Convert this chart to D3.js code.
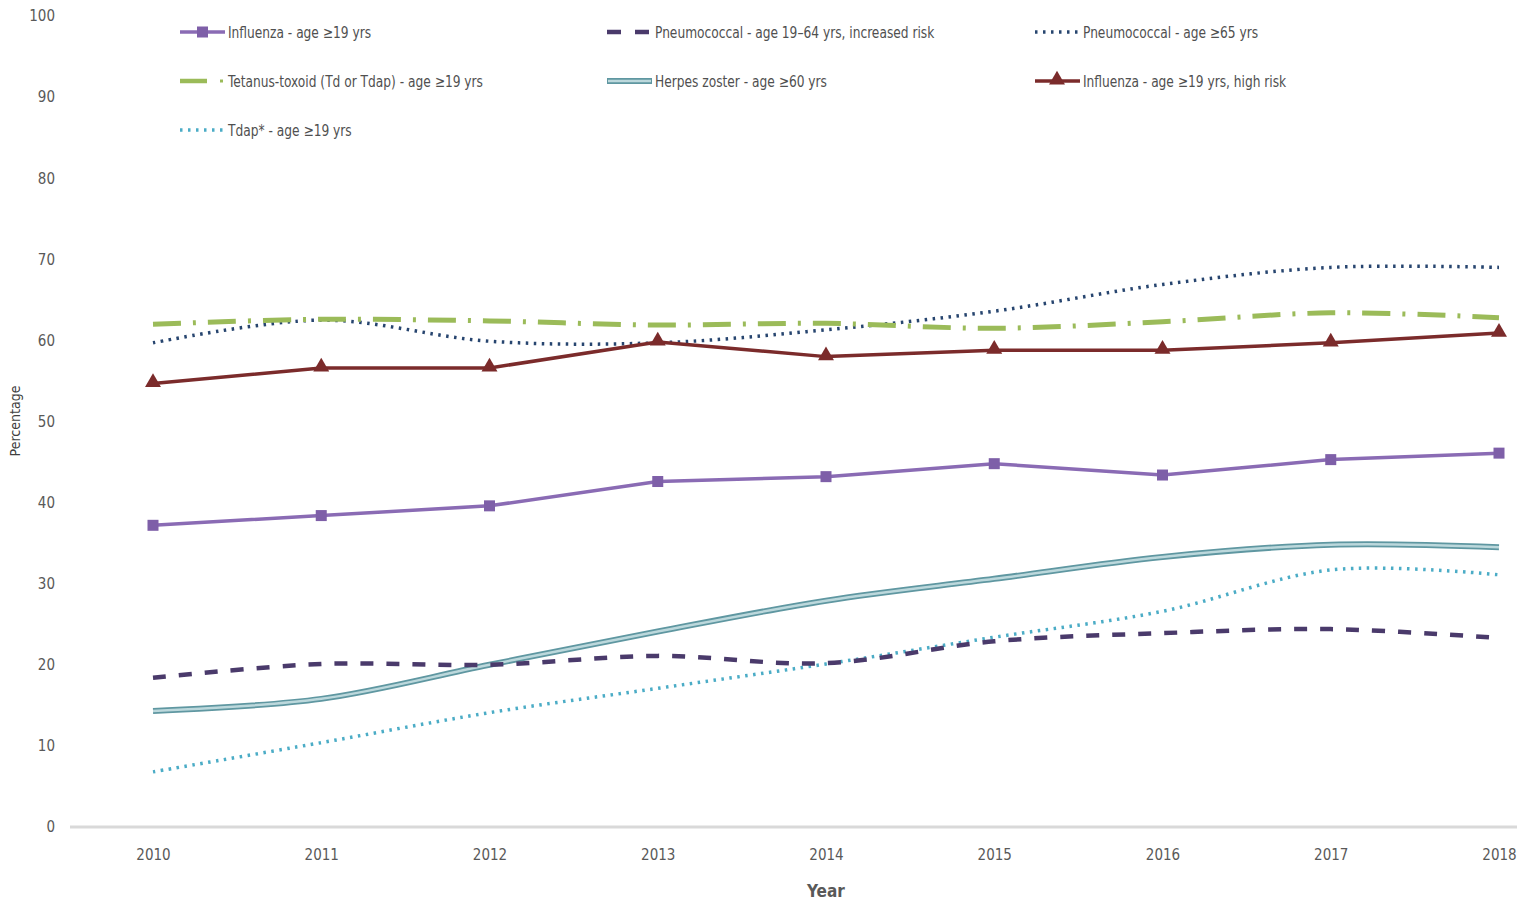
<!DOCTYPE html>
<html>
<head>
<meta charset="utf-8">
<script src="https://cdn.jsdelivr.net/npm/d3@7"></script>
<style>
  html, body { margin: 0; padding: 0; background: #fff; }
  svg text { font-family: "Liberation Sans Narrow", "DejaVu Sans Condensed", "Roboto", sans-serif; }
</style>
</head>
<body>
<svg id="chart" width="1517" height="901"></svg>
<script>
const years = [2010, 2011, 2012, 2013, 2014, 2015, 2016, 2017, 2018];
const yTicks = [0, 10, 20, 30, 40, 50, 60, 70, 80, 90, 100];

const influenza19 = [37.2, 38.4, 39.6, 42.6, 43.2, 44.8, 43.4, 45.3, 46.1];
const pneumoIncRisk = [18.4, 20.1, 20.0, 21.1, 20.2, 22.9, 23.9, 24.4, 23.3];
const pneumo65 = [59.7, 62.5, 59.9, 59.7, 61.3, 63.6, 66.9, 69.0, 69.0];
const tetanus = [62.0, 62.6, 62.4, 61.9, 62.1, 61.5, 62.3, 63.4, 62.8];
const herpes = [14.3, 15.8, 20.0, 24.1, 27.9, 30.6, 33.3, 34.8, 34.5];
const influenzaHigh = [54.7, 56.6, 56.6, 59.8, 58.0, 58.8, 58.8, 59.7, 60.9];
const tdap = [6.8, 10.4, 14.1, 17.1, 20.1, 23.4, 26.6, 31.7, 31.1];

const seriesNames = [
  "Influenza - age \u226519 yrs",
  "Pneumococcal - age 19\u201364 yrs, increased risk",
  "Pneumococcal - age \u226565 yrs",
  "Tetanus-toxoid (Td or Tdap) - age \u226519 yrs",
  "Herpes zoster - age \u226560 yrs",
  "Influenza - age \u226519 yrs, high risk",
  "Tdap* - age \u226519 yrs"
];

const styles = [
  { color: "#8a6bb4", width: 3.5, dash: null, marker: "square", smooth: false },
  { color: "#4a3a6b", width: 4.5, dash: "13,13", marker: null, smooth: true },
  { color: "#27456f", width: 3.5, dash: "2.5,5.5", marker: null, smooth: true },
  { color: "#9bbb59", width: 5, dash: "28,12,3,12", marker: null, smooth: true },
  { color: "#5f97a1", width: 6, dash: null, marker: null, smooth: true, inner: "#bcd8dc" },
  { color: "#7b2b2b", width: 3.5, dash: null, marker: "triangle", smooth: false },
  { color: "#4bacc6", width: 3.5, dash: "2.5,5.5", marker: null, smooth: true }
];
const seriesData = [influenza19, pneumoIncRisk, pneumo65, tetanus, herpes, influenzaHigh, tdap];
const drawOrder = [4, 6, 1, 2, 3, 5, 0];

const svg = d3.select("#chart");
const x = d3.scaleLinear().domain([2010, 2018]).range([153, 1499]);
const y = d3.scaleLinear().domain([0, 100]).range([827, 16]);

// x axis baseline
svg.append("line").attr("x1", 70).attr("x2", 1517).attr("y1", y(0)).attr("y2", y(0))
  .attr("stroke", "#d9d9d9").attr("stroke-width", 3);

// y tick labels
const yAxis = d3.axisLeft(y).tickValues(yTicks).tickSize(0).tickPadding(0);
const gy = svg.append("g").attr("transform", "translate(55,0)").call(yAxis);
gy.select(".domain").remove();
gy.selectAll("text").attr("font-size", 15).attr("fill", "#595959");

// x tick labels
const xAxis = d3.axisBottom(x).tickValues(years).tickFormat(d3.format("d")).tickSize(0).tickPadding(0);
const gx = svg.append("g").attr("transform", `translate(0,${y(0) + 20})`).call(xAxis);
gx.select(".domain").remove();
gx.selectAll("text").attr("font-size", 15).attr("fill", "#595959").attr("dy", "0.35em").attr("y", 8);

// axis titles
svg.append("text").attr("x", 826).attr("y", 897).attr("text-anchor", "middle")
  .attr("font-size", 17).attr("font-weight", "bold").attr("fill", "#595959").text("Year");
svg.append("text").attr("transform", "translate(20,421) rotate(-90)").attr("text-anchor", "middle")
  .attr("font-size", 14).attr("fill", "#404040").text("Percentage");

// lines
drawOrder.forEach(i => {
  const st = styles[i];
  const line = d3.line()
    .x((d, j) => x(years[j]))
    .y(d => y(d))
    .curve(st.smooth ? d3.curveCatmullRom.alpha(0) : d3.curveLinear);
  const p = svg.append("path").datum(seriesData[i])
    .attr("d", line).attr("fill", "none")
    .attr("stroke", st.color).attr("stroke-width", st.width)
    .attr("stroke-linejoin", "round");
  if (st.dash) p.attr("stroke-dasharray", st.dash);
  if (st.inner) {
    svg.append("path").datum(seriesData[i]).attr("d", line).attr("fill", "none")
      .attr("stroke", st.inner).attr("stroke-width", 2.5);
  }
  if (st.marker === "square") {
    svg.append("g").selectAll("rect").data(seriesData[i]).join("rect")
      .attr("x", (d, j) => x(years[j]) - 5.5).attr("y", d => y(d) - 5.5)
      .attr("width", 11).attr("height", 11).attr("fill", "#7e5fa8");
  } else if (st.marker === "triangle") {
    const tri = d3.symbol().type(d3.symbolTriangle).size(110);
    svg.append("g").selectAll("path").data(seriesData[i]).join("path")
      .attr("d", tri).attr("transform", (d, j) => `translate(${x(years[j])},${y(d) - 1})`)
      .attr("fill", "#7b2b2b");
  }
});

// legend
const legendPos = [
  [180, 32], [607, 32], [1035, 32],
  [180, 81], [607, 81], [1035, 81],
  [180, 130]
];
seriesNames.forEach((name, i) => {
  const st = styles[i];
  const [lx, ly] = legendPos[i];
  const g = svg.append("g").attr("transform", `translate(${lx},${ly})`);
  if (i === 3) {
    g.append("line").attr("x1", 0).attr("x2", 27).attr("y1", 0).attr("y2", 0)
      .attr("stroke", st.color).attr("stroke-width", 4.5);
    g.append("line").attr("x1", 40).attr("x2", 43).attr("y1", 0).attr("y2", 0)
      .attr("stroke", st.color).attr("stroke-width", 3);
  } else {
    const l = g.append("line").attr("x1", 0).attr("x2", 45).attr("y1", 0).attr("y2", 0)
      .attr("stroke", st.color).attr("stroke-width", st.width);
    if (st.dash) l.attr("stroke-dasharray", st.dash === "13,13" ? "14,14" : st.dash);
    if (st.inner) g.append("line").attr("x1", 1).attr("x2", 44).attr("y1", 0).attr("y2", 0)
      .attr("stroke", st.inner).attr("stroke-width", 2.5);
  }
  if (st.marker === "square") {
    g.append("rect").attr("x", 17).attr("y", -5.5).attr("width", 11).attr("height", 11).attr("fill", "#7e5fa8");
  } else if (st.marker === "triangle") {
    g.append("path").attr("d", d3.symbol().type(d3.symbolTriangle).size(110)).attr("transform", "translate(22,-1)").attr("fill", "#7b2b2b");
  }
  g.append("text").attr("transform", "translate(48,0) scale(0.85,1)").attr("dy", "0.35em")
    .attr("font-size", 16).attr("fill", "#505050").text(name);
});
</script>
</body>
</html>
